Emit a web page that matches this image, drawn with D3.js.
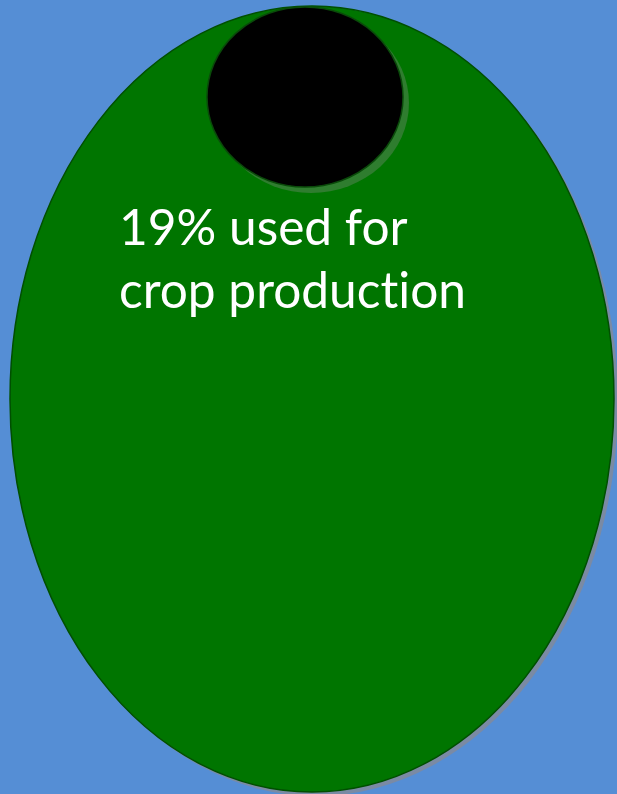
<!DOCTYPE html>
<html>
<head>
<meta charset="utf-8">
<script src="https://cdn.jsdelivr.net/npm/d3@7"></script>
<style>
  html, body { margin: 0; padding: 0; background: #558ED5; }
  svg { display: block; }
  text { font-variant-ligatures: none; font-feature-settings: "liga" 0, "clig" 0; }
</style>
</head>
<body>
<svg id="chart" width="617" height="794"></svg>
<script>
// Share of land used for crop production
const shareValue = [19];
const labelLines = ["19% used for", "crop production"];

const width = 617, height = 794;
const svg = d3.select("#chart");

svg.append("rect").attr("width", width).attr("height", height).attr("fill", "#558ED5");

// Whole area (green oval) with drop shadow
const outer = { cx: 312, cy: 399, rx: 302, ry: 393 };
svg.append("ellipse")
  .attr("cx", outer.cx + 4).attr("cy", outer.cy + 4)
  .attr("rx", outer.rx).attr("ry", outer.ry)
  .attr("fill", "#7a8aa4");
svg.append("ellipse")
  .attr("cx", outer.cx).attr("cy", outer.cy)
  .attr("rx", outer.rx).attr("ry", outer.ry)
  .attr("fill", "#007500")
  .attr("stroke", "#004f00").attr("stroke-width", 1.5);

// Portion marker (black disc) with shadow
const inner = { cx: 305, cy: 97, rx: 98, ry: 90 };
svg.append("ellipse")
  .attr("cx", inner.cx + 6).attr("cy", inner.cy + 6)
  .attr("rx", inner.rx).attr("ry", inner.ry)
  .attr("fill", "#2f7d2f");
svg.append("ellipse")
  .attr("cx", inner.cx).attr("cy", inner.cy)
  .attr("rx", inner.rx).attr("ry", inner.ry)
  .attr("fill", "#000")
  .attr("stroke", "#0a4a0a").attr("stroke-width", 1.5);

// Label
const text = svg.append("text")
  .attr("fill", "#ffffff")
  .attr("font-family", "Lato, 'Open Sans', sans-serif")
  .attr("font-size", 46);
labelLines.forEach((line, i) => {
  text.append("tspan").attr("x", 119).attr("y", 245 + i * 63).text(line);
});
// fit second line width
const t2 = text.selectAll("tspan").nodes()[1];
const w = t2.getComputedTextLength();
text.attr("font-size", 46 * 347 / w);
</script>
</body>
</html>
